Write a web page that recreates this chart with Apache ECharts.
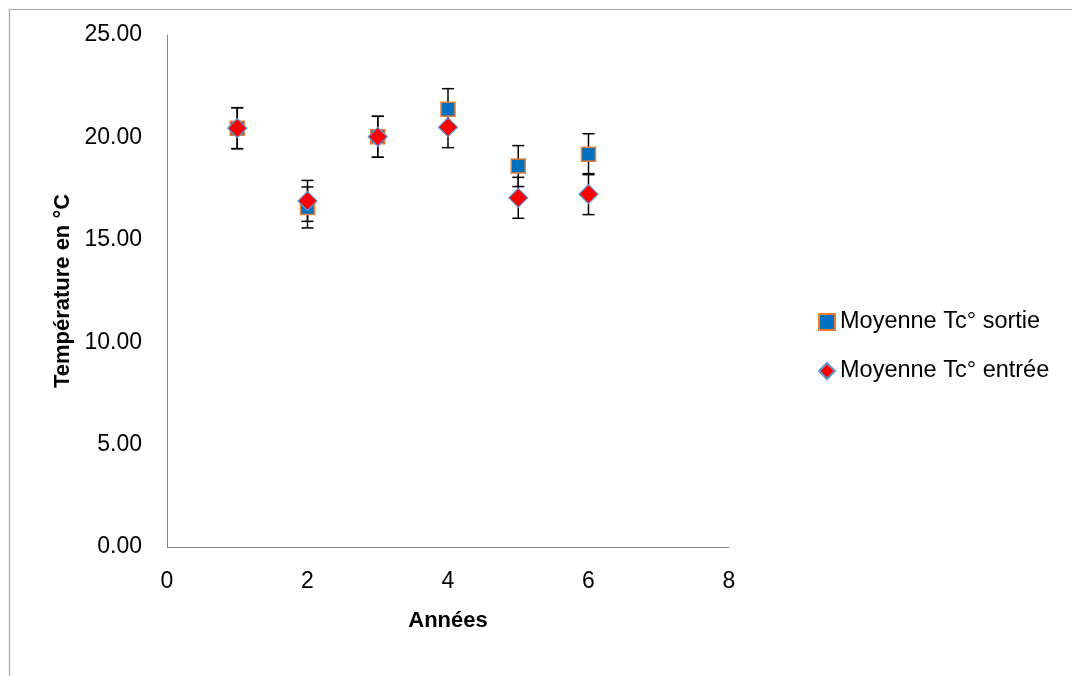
<!DOCTYPE html>
<html>
<head>
<meta charset="utf-8">
<script src="https://cdn.jsdelivr.net/npm/echarts@6/dist/echarts.min.js"></script>
<style>
html,body{margin:0;padding:0;background:#fff;}
#chart{width:1072px;height:676px;}
</style>
</head>
<body>
<div id="chart"></div>
<script>
// Data
const years = [1, 2, 3, 4, 5, 6];
const sortie = [20.45, 16.58, 20.03, 21.38, 18.60, 19.18];
const entree = [20.45, 16.90, 20.03, 20.50, 17.05, 17.23];
const sortieErr = [1, 1, 1, 1, 1, 1];
const entreeErr = [1, 1, 1, 1, 1, 1];
const seriesNames = ['Moyenne Tc° sortie', 'Moyenne Tc° entrée'];

const FONT = "'Liberation Sans', Arial, sans-serif";

function errData(vals, errs) {
  return years.map((x, i) => [x, vals[i] - errs[i], vals[i] + errs[i]]);
}

function renderErr(params, api) {
  const x = api.value(0), lo = api.value(1), hi = api.value(2);
  const top = api.coord([x, hi]);
  const bot = api.coord([x, lo]);
  const w = 6;
  const style = { stroke: '#000', lineWidth: 1.5 };
  return {
    type: 'group',
    children: [
      { type: 'line', shape: { x1: top[0], y1: top[1], x2: bot[0], y2: bot[1] }, style },
      { type: 'line', shape: { x1: top[0] - w, y1: top[1], x2: top[0] + w, y2: top[1] }, style },
      { type: 'line', shape: { x1: bot[0] - w, y1: bot[1], x2: bot[0] + w, y2: bot[1] }, style }
    ]
  };
}

const chart = echarts.init(document.getElementById('chart'), null, { renderer: 'canvas' });
chart.setOption({
  backgroundColor: '#fff',
  animation: false,
  textStyle: { fontFamily: FONT },
  graphic: [{
    type: 'rect', left: 7, top: 7, z: -10,
    shape: { width: 1200, height: 800 },
    style: { fill: 'none', stroke: '#a6a6a6', lineWidth: 1.2 }
  }],
  grid: { left: 167, right: 343, top: 35, bottom: 129, containLabel: false },
  xAxis: {
    type: 'value', min: 0, max: 8, interval: 2,
    name: 'Années', nameLocation: 'middle', nameGap: 63,
    nameTextStyle: { fontFamily: FONT, fontSize: 22, fontWeight: 'bold', color: '#000' },
    axisLine: { show: true, onZero: false, lineStyle: { color: '#868686', width: 1 } },
    axisTick: { show: false },
    splitLine: { show: false },
    axisLabel: { fontFamily: FONT, fontSize: 23, color: '#000', margin: 23 }
  },
  yAxis: {
    type: 'value', min: 0, max: 25, interval: 5,
    name: 'Température en °C', nameLocation: 'middle', nameGap: 87, nameRotate: 90,
    nameTextStyle: { fontFamily: FONT, fontSize: 22, fontWeight: 'bold', color: '#000' },
    axisLine: { show: true, lineStyle: { color: '#868686', width: 1 } },
    axisTick: { show: false },
    splitLine: { show: false },
    axisLabel: { fontFamily: FONT, fontSize: 23, color: '#000', margin: 25,
      formatter: v => v.toFixed(2) }
  },
  legend: {
    orient: 'vertical', left: 813, top: 305, itemGap: 25,
    itemWidth: 16, itemHeight: 16,
    textStyle: { fontFamily: FONT, fontSize: 23.5, color: '#000' },
    data: [{ name: seriesNames[0], icon: 'rect' }, { name: seriesNames[1], icon: 'diamond' }]
  },
  series: [
    {
      type: 'custom', name: 'err-sortie', renderItem: renderErr,
      data: errData(sortie, sortieErr), encode: { x: 0, y: [1, 2] }, z: 1, silent: true
    },
    {
      type: 'custom', name: 'err-entree', renderItem: renderErr,
      data: errData(entree, entreeErr), encode: { x: 0, y: [1, 2] }, z: 1, silent: true
    },
    {
      type: 'scatter', name: seriesNames[0], symbol: 'rect', symbolSize: 14, z: 3,
      itemStyle: { color: '#0070C0', borderColor: '#ED7D31', borderWidth: 1.5, opacity: 1 },
      data: years.map((x, i) => [x, sortie[i]])
    },
    {
      type: 'scatter', name: seriesNames[1], symbol: 'diamond', symbolSize: 19, z: 4,
      itemStyle: { color: '#FF0000', borderColor: '#5B9BD5', borderWidth: 1.2, opacity: 1 },
      data: years.map((x, i) => [x, entree[i]])
    }
  ]
});
</script>
</body>
</html>
